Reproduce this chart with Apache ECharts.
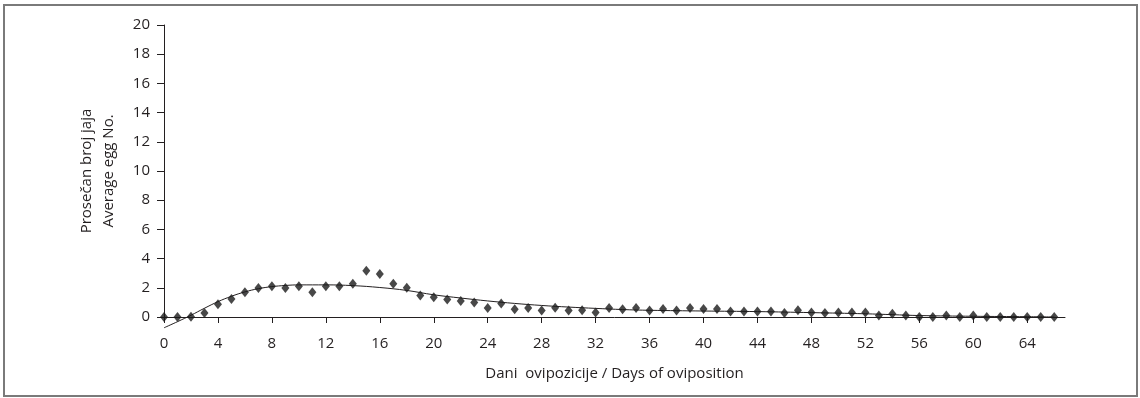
<!DOCTYPE html>
<html>
<head>
<meta charset="utf-8">
<script src="https://cdn.jsdelivr.net/npm/echarts@6/dist/echarts.min.js"></script>
<style>
html,body{margin:0;padding:0;background:#fff;}
#chart{width:1140px;height:398px;}
</style>
</head>
<body>
<div id="chart"></div>
<script>
// Observed average egg number per day
const days = [0,1,2,3,4,5,6,7,8,9,10,11,12,13,14,15,16,17,18,19,20,21,22,23,24,25,26,27,28,29,30,31,32,33,34,35,36,37,38,39,40,41,42,43,44,45,46,47,48,49,50,51,52,53,54,55,56,57,58,59,60,61,62,63,64,65,66];
const eggs = [0,0,0.02,0.28,0.87,1.24,1.7,1.98,2.1,1.98,2.1,1.7,2.1,2.1,2.27,3.17,2.94,2.27,2.0,1.47,1.36,1.2,1.1,1.0,0.62,0.92,0.53,0.62,0.44,0.64,0.44,0.46,0.3,0.62,0.53,0.62,0.44,0.55,0.44,0.62,0.55,0.55,0.37,0.37,0.37,0.37,0.28,0.46,0.3,0.28,0.3,0.3,0.3,0.1,0.23,0.1,0,0,0.1,0,0.1,0,0,0,0,0,0];
// Trend line
const trendDays = [0,1,2,3,4,5,6,7,8,9,10,12,14,16,18,20,22,24,26,28,30,32,34,36,40,44,48,52,54,56,60,64,66];
const trendVals = [-0.74,-0.32,0.12,0.6,1.05,1.42,1.72,1.94,2.08,2.16,2.2,2.2,2.15,2.02,1.82,1.52,1.3,1.1,0.93,0.79,0.68,0.59,0.51,0.46,0.41,0.37,0.3,0.22,0.16,0.1,0.05,0.02,0];
const xTicks = [0,4,8,12,16,20,24,28,32,36,40,44,48,52,56,60,64];

const chart = echarts.init(document.getElementById('chart'));
const txt = '#231f20';
const font = 'Open Sans';
chart.setOption({
  animation: false,
  backgroundColor: '#fff',
  graphic: [{
    type: 'rect', shape: {x: 4, y: 5, width: 1133, height: 391},
    style: {fill: 'none', stroke: '#7a7a7a', lineWidth: 2}, silent: true, z: -1
  }],
  grid: {left: 164, right: 75, top: 25, bottom: 81},
  xAxis: {
    type: 'value', min: 0, max: 66.8,
    name: 'Dani  ovipozicije / Days of oviposition',
    nameLocation: 'middle', nameGap: 49,
    nameTextStyle: {color: txt, fontFamily: font, fontSize: 15},
    axisLine: {lineStyle: {color: '#231f20', width: 1}},
    axisTick: {customValues: xTicks, length: 6, lineStyle: {color: '#231f20'}},
    axisLabel: {customValues: xTicks, color: txt, fontFamily: font, fontSize: 15, margin: 19},
    splitLine: {show: false}
  },
  yAxis: {
    type: 'value', min: 0, max: 20, interval: 2,
    name: 'Prosečan broj jaja\nAverage egg No.',
    nameLocation: 'middle', nameGap: 44,
    nameTextStyle: {color: txt, fontFamily: font, fontSize: 15, lineHeight: 22},
    axisLine: {show: true, lineStyle: {color: '#231f20', width: 1}},
    axisTick: {show: true, length: 7, lineStyle: {color: '#231f20'}},
    axisLabel: {color: txt, fontFamily: font, fontSize: 15, margin: 14},
    splitLine: {show: false}
  },
  series: [{
    type: 'line', data: trendDays.map((d, i) => [d, trendVals[i]]),
    smooth: 0.4, showSymbol: false, clip: false,
    lineStyle: {color: '#231f20', width: 1}, z: 2
  }, {
    type: 'scatter', data: days.map((d, i) => [d, eggs[i]]),
    symbol: 'diamond', symbolSize: [8, 10], clip: false,
    itemStyle: {color: '#1a1a1a'}, z: 3
  }]
});
</script>
</body>
</html>
